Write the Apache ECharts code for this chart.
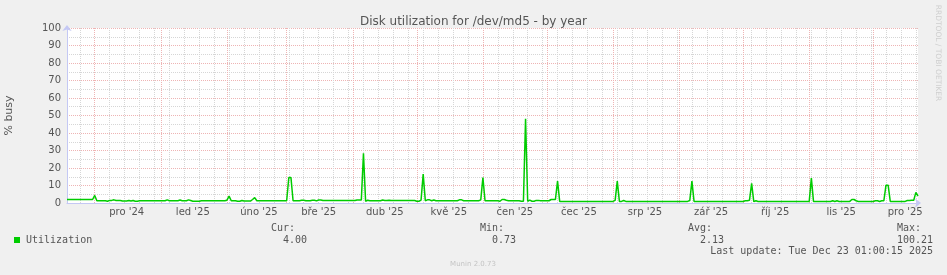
<!DOCTYPE html>
<html><head><meta charset="utf-8">
<script src="https://cdn.jsdelivr.net/npm/echarts@6/dist/echarts.min.js"></script>
<style>html,body{margin:0;padding:0;background:#f0f0f0;}#c{width:947px;height:275px;}</style>
</head><body><div id="c"></div>
<script>
// ---- data ----
const titleText = 'Disk utilization for /dev/md5 - by year';
const yAxisName = '% busy';
const startDate = '2024-11-18';   // first day of the 400-day window
const dayCount = 400;
const tickDates = ['2024-12-16','2025-01-16','2025-02-16','2025-03-16','2025-04-16','2025-05-16','2025-06-16','2025-07-16','2025-08-16','2025-09-16','2025-10-16','2025-11-16','2025-12-16'];
const tickLabels = ["pro '24","led '25","úno '25","bře '25","dub '25","kvě '25","čen '25","čec '25","srp '25","zář '25","říj '25","lis '25","pro '25"];
const yTicks = [0,10,20,30,40,50,60,70,80,90,100];
const seriesName = 'Utilization';
const utilization = [
2.0,2.0,2.0,2.0,2.0,2.0,2.0,2.0,2.0,2.0,2.0,2.0,2.0,4.3,1.3,1.3,1.3,1.3,1.3,1.0,
1.5,1.5,1.8,1.4,1.4,1.4,1.1,1.1,1.1,1.4,1.1,1.4,1.0,1.0,1.3,1.3,1.3,1.3,1.3,1.3,
1.3,1.3,1.3,1.3,1.3,1.3,1.3,1.8,1.3,1.3,1.3,1.3,1.3,1.7,1.3,1.3,1.3,1.8,1.4,1.0,
1.0,1.0,1.0,1.3,1.3,1.3,1.3,1.3,1.3,1.3,1.3,1.3,1.3,1.3,1.3,1.6,3.9,1.3,1.3,1.3,
1.0,1.0,1.4,1.1,1.1,1.1,1.1,2.0,3.1,1.3,1.3,1.3,1.3,1.3,1.3,1.3,1.3,1.3,1.3,1.3,
1.3,1.3,1.3,1.3,14.6,14.6,1.3,1.3,1.3,1.3,1.6,1.6,1.3,1.3,1.3,1.6,1.6,1.2,1.7,1.7,
1.4,1.4,1.4,1.4,1.4,1.4,1.4,1.4,1.4,1.4,1.4,1.4,1.4,1.4,1.4,1.4,1.7,1.7,1.7,28.4,
1.0,1.6,1.3,1.3,1.3,1.3,1.3,1.3,1.7,1.4,1.4,1.6,1.4,1.4,1.4,1.4,1.4,1.4,1.4,1.4,
1.4,1.4,1.4,1.4,1.0,1.0,1.6,16.5,1.3,1.8,1.8,1.3,1.7,1.3,1.3,1.3,1.3,1.3,1.3,1.3,
1.3,1.3,1.3,1.3,1.8,1.8,1.3,1.3,1.3,1.3,1.3,1.3,1.3,1.3,1.8,14.6,1.3,1.3,1.3,1.3,
1.3,1.3,1.3,1.0,2.0,2.0,1.6,1.3,1.3,1.3,1.3,1.3,1.3,1.0,1.0,48.1,1.0,1.6,1.0,1.0,
1.5,1.5,1.3,1.3,1.3,1.3,1.3,2.0,2.0,2.0,12.5,0.9,0.9,0.9,0.9,0.9,0.9,0.9,0.9,0.9,
0.9,0.9,0.9,0.9,0.9,0.9,0.9,0.9,0.9,0.9,0.9,0.9,0.9,0.9,0.9,0.9,0.9,1.5,12.5,0.9,
0.9,1.4,0.9,0.9,0.9,0.9,0.9,0.9,0.9,0.9,0.9,0.9,0.9,0.9,0.9,0.9,0.9,0.9,0.9,0.9,
0.9,0.9,0.9,0.9,0.9,0.9,0.9,0.9,0.9,0.9,0.9,0.9,1.4,12.5,0.9,0.9,0.9,0.9,0.9,0.9,
0.9,0.9,0.9,0.9,0.9,0.9,0.9,0.9,0.9,0.9,0.9,0.9,0.9,0.9,0.9,0.9,0.9,0.9,1.3,1.3,
1.6,11.3,0.8,1.3,0.9,0.9,0.9,0.9,0.9,0.9,0.9,0.9,0.9,0.9,0.9,0.9,0.9,0.9,0.9,0.9,
0.9,0.9,0.9,0.9,0.9,0.9,0.9,0.9,0.9,14.2,0.9,0.9,0.9,0.9,0.9,0.9,0.9,0.9,0.9,1.3,
0.9,1.3,0.9,0.9,0.9,0.9,0.9,0.9,2.0,2.0,1.3,0.9,0.9,0.9,0.9,0.9,0.9,0.9,0.9,1.3,
1.3,0.9,1.3,1.3,10.2,10.2,0.9,0.9,0.9,0.9,0.9,0.9,0.9,0.9,1.4,1.4,1.6,1.6,6.1,4.0
];
const statHeaders = ['Cur:','Min:','Avg:','Max:'];
const statValues = ['4.00','0.73','2.13','100.21'];
const lastUpdate = 'Last update: Tue Dec 23 01:00:15 2025';
const footer = 'Munin 2.0.73';
const sideText = 'RRDTOOL / TOBI OETIKER';

// ---- build categories (one per day) ----
const days = [];
{
  const t0 = Date.parse(startDate + 'T00:00:00Z');
  for (let i = 0; i < dayCount; i++) {
    days.push(new Date(t0 + i * 86400000).toISOString().slice(0, 10));
  }
}
const isSunday = (v) => new Date(v + 'T00:00:00Z').getUTCDay() === 0;
const isMonthStart = (v) => v.slice(8) === '01';

const GREEN = '#00cc00';
const AXIS = '#c4c8f4';
const MONO = '"DejaVu Sans Mono", monospace';
const SANS = '"DejaVu Sans", sans-serif';
const TXT = '#555555';
const MAJOR = '#eeb4b4';
const MINOR = '#d6d6d6';

const chart = echarts.init(document.getElementById('c'), null, {renderer: 'canvas'});

const statX = [271, 480, 688, 897];
const graphics = [
  {type: 'rect', shape: {x: 14, y: 237, width: 6, height: 6}, style: {fill: GREEN}},
  {type: 'text', x: 26, y: 240, style: {text: seriesName, font: '10px ' + MONO, fill: TXT, align: 'left', verticalAlign: 'middle'}},
  {type: 'text', x: 933, y: 251, style: {text: lastUpdate, font: '10px ' + MONO, fill: TXT, align: 'right', verticalAlign: 'middle'}},
  {type: 'text', x: 473, y: 264, style: {text: footer, font: '7px ' + SANS, fill: '#c4c4c4', align: 'center', verticalAlign: 'middle'}},
  {type: 'text', x: 938, y: 53, rotation: -Math.PI / 2, style: {text: sideText, font: '7.5px ' + SANS, fill: '#cfcfcf', align: 'center', verticalAlign: 'middle'}}
];
statHeaders.forEach((h, i) => {
  graphics.push({type: 'text', x: statX[i], y: 228, style: {text: h, font: '10px ' + MONO, fill: TXT, align: 'left', verticalAlign: 'middle'}});
  graphics.push({type: 'text', x: statX[i] + 36, y: 240, style: {text: statValues[i], font: '10px ' + MONO, fill: TXT, align: 'right', verticalAlign: 'middle'}});
});

chart.setOption({
  backgroundColor: '#f0f0f0',
  animation: false,
  title: {
    text: titleText, left: 'center', top: 11,
    textStyle: {fontFamily: SANS, fontSize: 12, fontWeight: 'normal', color: TXT}
  },
  grid: {left: 67, right: 29, top: 28, bottom: 72, show: true, backgroundColor: '#ffffff', borderWidth: 0, containLabel: false, outerBoundsMode: 'none'},
  xAxis: [
    {
      type: 'category', data: days, boundaryGap: false, position: 'bottom',
      axisLine: {show: true, lineStyle: {color: AXIS, width: 1}, symbol: ['none', 'arrow'], symbolSize: [7, 6], symbolOffset: [0, 3]},
      axisTick: {show: false},
      axisLabel: {
        interval: (i, v) => tickDates.indexOf(v) >= 0,
        formatter: (v) => tickLabels[tickDates.indexOf(v)],
        fontFamily: SANS, fontSize: 10, color: TXT, margin: 4
      },
      splitLine: {show: true, interval: (i, v) => isSunday(v), lineStyle: {color: MINOR, type: [1, 1], width: 1}}
    },
    {
      type: 'category', data: days, boundaryGap: false, position: 'top',
      axisLine: {show: false}, axisTick: {show: false}, axisLabel: {show: false},
      splitLine: {show: true, interval: (i, v) => isMonthStart(v), lineStyle: {color: MAJOR, type: [1, 1], width: 1}}
    }
  ],
  yAxis: {
    type: 'value', min: 0, max: 100, interval: 10,
    name: yAxisName, nameLocation: 'middle', nameGap: 52, nameRotate: 90,
    nameTextStyle: {fontFamily: SANS, fontSize: 11, color: TXT},
    axisLine: {show: true, lineStyle: {color: AXIS, width: 1}, symbol: ['none', 'arrow'], symbolSize: [7, 6], symbolOffset: [0, 3]},
    axisTick: {show: false},
    axisLabel: {
      formatter: (v) => (yTicks.indexOf(v) >= 0 ? String(v) : ''),
      fontFamily: SANS, fontSize: 10, color: TXT, margin: 6
    },
    splitLine: {show: true, lineStyle: {color: MAJOR, type: [1, 1], width: 1}},
    minorTick: {show: false, splitNumber: 2},
    minorSplitLine: {show: true, lineStyle: {color: MINOR, type: [1, 1], width: 1}}
  },
  series: [{
    name: seriesName, type: 'line', xAxisIndex: 0, data: utilization,
    showSymbol: false, symbol: 'none',
    lineStyle: {color: GREEN, width: 1.5},
    z: 5
  }],
  graphic: graphics
});
</script>
</body></html>
